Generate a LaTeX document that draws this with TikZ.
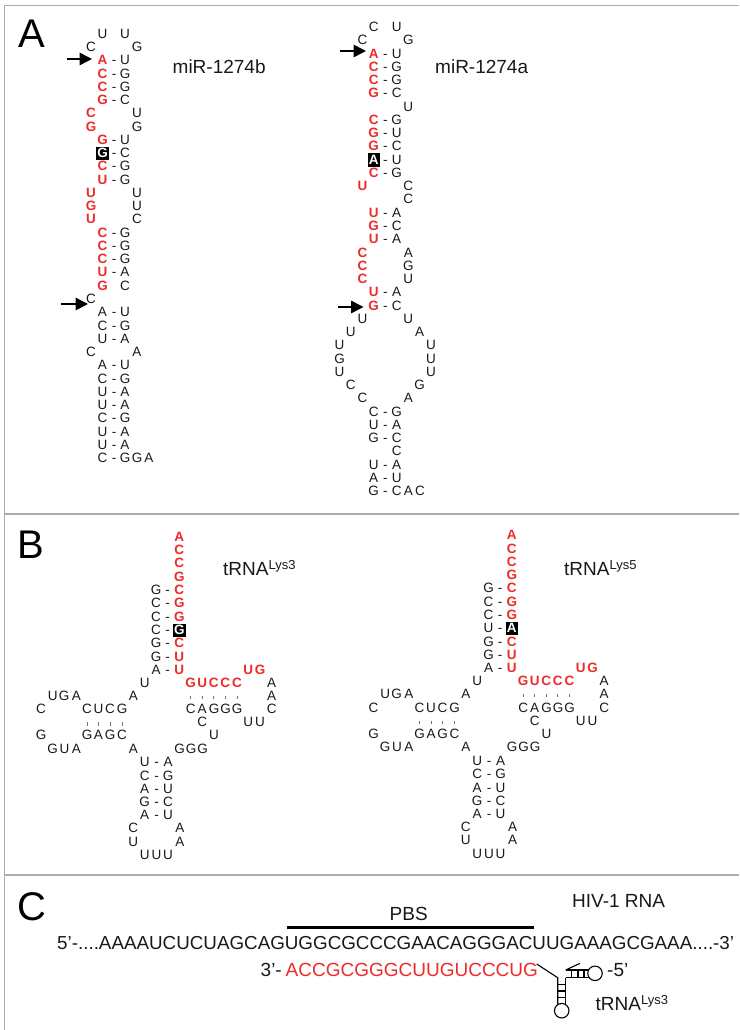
\documentclass[tikz,border=0pt]{standalone}
\usepackage{fontspec}
\setmainfont{Liberation Sans}
\usetikzlibrary{arrows.meta}
\definecolor{rnared}{HTML}{EE2A2A}
\definecolor{framegray}{HTML}{ABABAB}
\newcounter{ntc}
\tikzset{
  nt/.style={anchor=base,inner sep=0pt,yshift=-4.8pt,font=\fontsize{13.5}{13.5}\selectfont,text=black!90},
  ntr/.style={nt,font=\fontsize{13.5}{13.5}\selectfont\bfseries,text=rnared},
  ntb/.style={nt,font=\fontsize{13.5}{13.5}\selectfont\bfseries,text=white,fill=black,minimum width=12.4pt,text height=10.9pt,text depth=2.7pt},
  lab/.style={anchor=base west,inner sep=0pt,font=\fontsize{19}{19}\selectfont,text=black!90},
  panel/.style={anchor=base west,inner sep=0pt,font=\fontsize{40}{40}\selectfont},
  arr/.style={line width=1.5pt,-{Triangle[length=12.5pt,width=12.5pt]}},
  frame/.style={draw=framegray,line width=1.3pt},
  tickmark/.style={inner sep=0pt,fill=black!55,minimum width=0.7pt,minimum height=3.2pt},
  icon/.style={draw=black,line width=1.1pt},
  hoop/.style={circle,draw=black,line width=1.1pt,inner sep=0pt,minimum size=14.5pt}
}
% a letter at a free y
\newcommand\Nt[4][nt]{\stepcounter{ntc}\node[#1] (n\arabic{ntc}) at (#2,#3) {#4};}
% a letter in a numbered row of a hairpin
\newcommand\At[4][nt]{\pgfmathsetmacro\yy{\yO+13.26*(#3)}\Nt[#1]{#2}{\yy}{#4}}
\newcommand\Rp[3]{\At[ntr]{\xb}{#1}{#2}\At{\xc}{#1}{-}\At{\xd}{#1}{#3}}
\newcommand\Kp[3]{\At{\xb}{#1}{#2}\At{\xc}{#1}{-}\At{\xd}{#1}{#3}}
\newcommand\Tp[4]{\Nt{144.7}{#1}{#2}\Nt{156.5}{#1}{-}\Nt{168}{#1}{#3}}
\newcommand\Sp[3]{\Nt{156}{#1}{#2}\Nt{167.7}{#1}{-}\Nt[ntr]{179.3}{#1}{#3}}
\newcommand\Tk[2]{\stepcounter{ntc}\node[tickmark] (n\arabic{ntc}) at (#1,#2) {};}
\newcommand\Trna[2]{%
  \Nt[ntr]{179.3}{536.7}{A}\Nt[ntr]{179.3}{550}{C}\Nt[ntr]{179.3}{563}{C}\Nt[ntr]{179.3}{576.5}{G}
  \Sp{589.7}{G}{C}\Sp{603}{C}{G}\Sp{616.2}{C}{G}
  \Nt{156}{629.6}{#1}\Nt{167.7}{629.6}{-}
  \Sp{643}{G}{C}\Sp{656.2}{G}{U}\Sp{669.2}{A}{U}
  \Nt[ntb]{179.3}{629.6}{#2}
  \Nt{144.7}{682.4}{U}
  \foreach \xx/\ll in {190.7/G,202.2/U,213.7/C,225.3/C,237/C}{\Nt[ntr]{\xx}{682.4}{\ll}}
  \Nt[ntr]{248.3}{669.2}{U}\Nt[ntr]{260}{669.2}{G}
  \Nt{271.7}{682.4}{A}
  \foreach \xx in {190.7,202.2,213.7,225.3,237}{\Tk{\xx}{697.5}}
  \foreach \xx/\ll in {52.7/U,64.2/G,76.3/A,133.3/A,271.7/A}{\Nt{\xx}{695.7}{\ll}}
  \foreach \xx/\ll in {41/C,87/C,98.5/U,110/C,122/G,190.7/C,202.2/A,214/G,225.7/G,237/G,271.7/C}{\Nt{\xx}{709}{\ll}}
  \foreach \xx/\ll in {202.2/C,248.3/U,260/U}{\Nt{\xx}{722}{\ll}}
  \foreach \xx in {87,98.5,110,122}{\Tk{\xx}{724}}
  \foreach \xx/\ll in {41/G,87/G,98.5/A,110/G,122/C,214/U}{\Nt{\xx}{735}{\ll}}
  \foreach \xx/\ll in {52.7/G,64.5/U,76.3/A,133.3/A,179.5/G,191/G,202.7/G}{\Nt{\xx}{748.5}{\ll}}
  \Tp{762}{U}{A}{}\Tp{775.5}{C}{G}{}\Tp{789}{A}{U}{}\Tp{802}{G}{C}{}\Tp{815}{A}{U}{}
  \Nt{133.3}{828}{C}\Nt{180}{828}{A}
  \Nt{133.3}{841.5}{U}\Nt{180}{841.5}{A}
  \Nt{144.7}{855}{U}\Nt{156.5}{855}{U}\Nt{168}{855}{U}
}
\begin{document}
\begin{tikzpicture}[x=1pt,y=-1pt]
\useasboundingbox (0,0) rectangle (739,1030);
\fill[white] (0,0) rectangle (739,1030);
% panel frame
\coordinate (ftl) at (4.7,5.5);
\coordinate (ftr) at (739,5.5);
\coordinate (fbl) at (4.7,1030);
\coordinate (fml) at (4.7,514);
\coordinate (fmr) at (739,514);
\coordinate (fcl) at (4.7,875);
\coordinate (fcr) at (739,875);
\draw[frame] (ftr) -- (ftl) -- (fbl);
\draw[frame] (fml) -- (fmr);
\draw[frame] (fcl) -- (fcr);
% panel letters
\node[panel] (pA) at (18.5,48) {A};
\node[panel] (pB) at (17.5,558) {B};
\node[panel] (pC) at (17.5,920) {C};
% miR-1274b
\def\xa{91}\def\xb{102.5}\def\xc{114}\def\xd{125}\def\xe{137}\def\yO{60}
\At{\xb}{-2}{U}\At{\xd}{-2}{U}
\At{\xa}{-1}{C}\At{\xe}{-1}{G}
\Rp{0}{A}{U}\Rp{1}{C}{G}\Rp{2}{C}{G}\Rp{3}{G}{C}
\At[ntr]{\xa}{4}{C}\At{\xe}{4}{U}
\At[ntr]{\xa}{5}{G}\At{\xe}{5}{G}
\Rp{6}{G}{U}
\At{\xc}{7}{-}\At{\xd}{7}{C}
\Rp{8}{C}{G}\Rp{9}{U}{G}
\At[ntb]{\xb}{7}{G}
\At[ntr]{\xa}{10}{U}\At{\xe}{10}{U}
\At[ntr]{\xa}{11}{G}\At{\xe}{11}{U}
\At[ntr]{\xa}{12}{U}\At{\xe}{12}{C}
\Rp{13}{C}{G}\Rp{14}{C}{G}\Rp{15}{C}{G}\Rp{16}{U}{A}
\At[ntr]{\xb}{17}{G}\At{\xd}{17}{C}
\At{\xa}{18}{C}
\Kp{19}{A}{U}\Kp{20}{C}{G}\Kp{21}{U}{A}
\At{\xa}{22}{C}\At{\xe}{22}{A}
\Kp{23}{A}{U}\Kp{24}{C}{G}\Kp{25}{U}{A}\Kp{26}{U}{A}\Kp{27}{C}{G}\Kp{28}{U}{A}\Kp{29}{U}{A}\Kp{30}{C}{G}
\At{\xe}{30}{G}\At{148.8}{30}{A}
% miR-1274a
\def\xa{362.5}\def\xb{373.7}\def\xc{385.3}\def\xd{396.7}\def\xe{408.3}\def\yO{53.3}
\At{\xb}{-2}{C}\At{\xd}{-2}{U}
\At{\xa}{-1}{C}\At{\xe}{-1}{G}
\Rp{0}{A}{U}\Rp{1}{C}{G}\Rp{2}{C}{G}\Rp{3}{G}{C}
\At{\xe}{4}{U}
\Rp{5}{C}{G}\Rp{6}{G}{U}\Rp{7}{G}{C}
\At{\xc}{8}{-}\At{\xd}{8}{U}
\Rp{9}{C}{G}
\At[ntb]{\xb}{8}{A}
\At[ntr]{\xa}{10}{U}\At{\xe}{10}{C}
\At{\xe}{11}{C}
\Rp{12}{U}{A}\Rp{13}{G}{C}\Rp{14}{U}{A}
\At[ntr]{\xa}{15}{C}\At{\xe}{15}{A}
\At[ntr]{\xa}{16}{C}\At{\xe}{16}{G}
\At[ntr]{\xa}{17}{C}\At{\xe}{17}{U}
\Rp{18}{U}{A}\Rp{19}{G}{C}
\At{\xa}{20}{U}\At{\xe}{20}{U}
\At{350.7}{21}{U}\At{419.7}{21}{A}
\At{339.5}{22}{U}\At{431}{22}{U}
\At{339.5}{23}{G}\At{431}{23}{U}
\At{339.5}{24}{U}\At{431}{24}{U}
\At{350.7}{25}{C}\At{419.7}{25}{G}
\At{\xa}{26}{C}\At{\xe}{26}{A}
\Kp{27}{C}{G}\Kp{28}{U}{A}\Kp{29}{G}{C}
\At{\xd}{30}{C}
\Kp{31}{U}{A}\Kp{32}{A}{U}\Kp{33}{G}{C}
\At{\xe}{33}{A}\At{420}{33}{C}
% arrows of panel A
\coordinate (a1s) at (67,59); \coordinate (a1e) at (92,59);
\coordinate (a2s) at (61,304); \coordinate (a2e) at (88,304);
\coordinate (a3s) at (340,51); \coordinate (a3e) at (366,51);
\coordinate (a4s) at (338,307); \coordinate (a4e) at (363.5,307);
\draw[arr] (a1s) -- (a1e);
\draw[arr] (a2s) -- (a2e);
\draw[arr] (a3s) -- (a3e);
\draw[arr] (a4s) -- (a4e);
\node[lab] (l1b) at (172.5,74) {miR-1274b};
\node[lab] (l1a) at (435,74) {miR-1274a};
% tRNAs
\Trna{C}{G}
\begin{scope}[shift={(332.5,-1.8)}]
\Trna{U}{A}
\end{scope}
\node[lab] (lt3) at (223,575) {tRNA\raisebox{6pt}{\fontsize{13}{13}\selectfont Lys3}};
\node[lab] (lt5) at (564,575) {tRNA\raisebox{6pt}{\fontsize{13}{13}\selectfont Lys5}};
% panel C
\coordinate (bars) at (287.3,927.7); \coordinate (bare) at (533.7,927.7);
\draw[line width=2.6pt,black] (bars) -- (bare);
\node[lab,anchor=base] (pbs) at (408.7,920) {PBS};
\node[lab] (hiv) at (572,907.7) {HIV-1 RNA};
\node[lab,font=\fontsize{18.8}{18.8}\selectfont] (s5) at (57,949.3) {5’-....AAAAUCUCUAGCAGUGGCGCCCGAACAGGGACUUGAAAGCGAAA....-3’};
\node[lab] (s3) at (260.5,976.7) {3’-};
\node[lab,text=rnared] (sr) at (285.5,976.7) {ACCGCGGGCUUGUCCCUG};
\node[lab] (f5) at (607,976.7) {-5’};
\node[lab] (lt3c) at (595.5,1010) {tRNA\raisebox{6pt}{\fontsize{13}{13}\selectfont Lys3}};
% small tRNA icon
\node[hoop] (hb) at (561.7,1010.7) {};
\node[hoop] (hr) at (595,973.3) {};
\coordinate (c3e) at (536.7,964);
\coordinate (sl) at (557.7,977.7);
\coordinate (sr2) at (565.7,977.7);
\coordinate (st) at (565.7,970);
\coordinate (c5e) at (580,963.3);
\draw[icon] (c3e) -- (sl) -- (sl |- hb.north west);
\draw[icon] (sr2) -- (sr2 |- hb.north east);
\draw[icon] (sr2) -- (sr2 -| hr.south west);
\draw[icon] (st) -- (st -| hr.north west);
\draw[icon] (st) -- (c5e);
\foreach \yv in {984.3,991,997.7}{\draw[icon] (sl |- 0,\yv) -- (sr2 |- 0,\yv);}
\foreach \xv in {571.7,578,584}{\draw[icon] (\xv,0 |- st) -- (\xv,0 |- sr2);}
\end{tikzpicture}
\end{document}
